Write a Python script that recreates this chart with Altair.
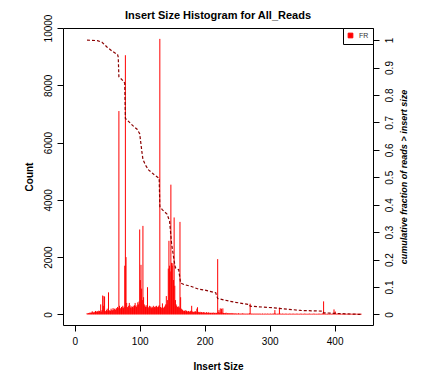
import altair as alt
import pandas as pd

# ---- data ----
sizes = list(range(19, 442))
counts = [
    40, 30, 50, 40, 60, 50, 70, 60, 110, 80,          # 19-28
    60, 90, 70, 120, 90, 100, 110, 80, 130, 120,      # 29-38
    100, 350, 100, 150, 660, 300, 640, 620, 120, 100, # 39-48
    150, 200, 120, 770, 150, 120, 130, 200, 150, 140, # 49-58
    220, 160, 200, 180, 160, 220, 200, 260, 220, 7100,# 59-68
    300, 220, 200, 260, 240, 300, 220, 260, 1700, 9050,  # 69-78
    2000, 400, 260, 220, 300, 400, 320, 240, 280, 220,   # 79-88
    260, 300, 240, 320, 400, 300, 260, 320, 420, 350,    # 89-98
    450, 2965, 1200, 1730, 900, 500, 3090, 600, 350, 300,# 99-108
    260, 320, 260, 950, 260, 220, 300, 240, 280, 220,    # 109-118
    260, 240, 300, 220, 260, 280, 240, 300, 260, 240,    # 119-128
    280, 320, 9620, 260, 220, 240, 385, 240, 220, 260,   # 129-138
    300, 350, 640, 350, 500, 1600, 2570, 1700, 1500, 4530, # 139-148
    1800, 1700, 1790, 1200, 3385, 1000, 500, 350, 300, 260, # 149-158
    240, 280, 240, 3230, 600, 200, 180, 150, 130, 110,   # 159-168
    120, 150, 100, 130, 110, 90, 120, 100, 90, 110,      # 169-178
    130, 300, 100, 90, 80, 100, 90, 110, 80, 200,        # 179-188
    250, 90, 80, 70, 90, 60, 80, 70, 60, 80,             # 189-198
    60, 70, 50, 60, 80, 50, 60, 70, 50, 60,              # 199-208
    50, 60, 40, 50, 70, 40, 50, 60, 40, 50,              # 209-218
    60, 1930, 80, 150, 60, 210, 70, 200, 60, 210,        # 219-228
    50, 40, 50, 40, 60, 30, 40, 50, 30, 40,              # 229-238
    30, 40, 30, 50, 30, 40, 20, 30, 40, 20,              # 239-248
    30, 20, 30, 40, 20, 30, 20, 30, 20, 40,              # 249-258
    20, 30, 20, 30, 20, 20, 30, 20, 30, 20,              # 259-268
    40, 375, 30, 20, 30, 20, 20, 30, 20, 20,             # 269-278
    30, 20, 20, 30, 20, 20, 30, 20, 20, 20,              # 279-288
    30, 20, 20, 20, 30, 20, 20, 20, 30, 20,              # 289-298
    20, 20, 30, 20, 20, 20, 30, 20, 40, 150,             # 299-308
    30, 20, 20, 20, 30, 20, 235, 30, 20, 20,             # 309-318
    20, 30, 20, 20, 20, 20, 30, 20, 20, 20,              # 319-328
    20, 20, 30, 20, 20, 20, 20, 30, 20, 20,              # 329-338
    20, 20, 20, 30, 20, 20, 20, 20, 20, 30,              # 339-348
    20, 20, 20, 20, 20, 30, 20, 20, 20, 20,              # 349-358
    20, 20, 30, 20, 20, 20, 20, 20, 20, 30,              # 359-368
    20, 20, 20, 20, 20, 20, 20, 30, 20, 20,              # 369-378
    20, 20, 30, 40, 455, 40, 30, 20, 20, 20,             # 379-388
    20, 20, 20, 20, 30, 20, 20, 20, 20, 40,              # 389-398
    175, 60, 100, 30, 20, 20, 20, 20, 20, 20,            # 399-408
    20, 20, 20, 20, 20, 20, 20, 20, 20, 20,              # 409-418
    20, 20, 20, 20, 20, 20, 20, 20, 20, 20,              # 419-428
    20, 20, 20, 20, 20, 20, 20, 20, 20, 20,              # 429-438
    20, 20, 20,                                          # 439-441
]
assert len(counts) == len(sizes)

cum_sizes = [19, 35, 42, 50, 58, 66, 67, 68, 73, 77, 78, 81, 89, 96, 100, 103,
             105, 109, 114, 122, 130, 131, 135, 142, 146, 149, 153, 155, 160,
             163, 168, 178, 191, 200, 217, 220, 245, 269, 270, 307, 348, 382,
             383, 399, 441]
cum_frac = [1.0, 0.998, 0.992, 0.974, 0.959, 0.947, 0.938, 0.866, 0.855, 0.843,
            0.714, 0.708, 0.689, 0.675, 0.659, 0.600, 0.565, 0.544, 0.526, 0.510,
            0.496, 0.393, 0.381, 0.366, 0.340, 0.260, 0.195, 0.170, 0.163, 0.115,
            0.109, 0.103, 0.092, 0.089, 0.079, 0.058, 0.045, 0.036, 0.030, 0.024,
            0.0145, 0.012, 0.006, 0.004, 0.0]

x_ticks = [0, 100, 200, 300, 400]
count_ticks = [0, 2000, 4000, 6000, 8000, 10000]
frac_ticks = [0, 0.1, 0.2, 0.3, 0.4, 0.5, 0.6, 0.7, 0.8, 0.9, 1.0]

hist = pd.DataFrame({"size": sizes, "count": counts, "series": ["FR"] * len(sizes)})
cum = pd.DataFrame({"size": cum_sizes, "frac": cum_frac})

FONT = "Liberation Sans"

x_scale = alt.Scale(domain=[-18, 459], nice=False, zero=False)

x_axis = alt.Axis(
    values=x_ticks, title="Insert Size", grid=False, domain=False, format="d",
    tickSize=6, tickColor="black", labelFontSize=10, labelColor="black",
    labelPadding=5, titleFontSize=10, titleFontWeight="bold", titlePadding=15,
    labelFont=FONT, titleFont=FONT, labelFlush=False, titleColor="black",
)

left_axis = alt.Axis(
    values=count_ticks, title="Count", grid=False, domain=False, format="d",
    tickSize=6, tickColor="black", labelFontSize=10, labelColor="black",
    labelAngle=270, labelAlign="center", labelBaseline="bottom", labelPadding=4,
    titleFontSize=10, titleFontWeight="bold", titlePadding=9,
    labelFont=FONT, titleFont=FONT, titleColor="black", labelFlush=False,
)

right_axis = alt.Axis(
    orient="right", values=frac_ticks, format=".1~f",
    title="cumulative fraction of reads > insert size", grid=False, domain=False,
    tickSize=6, tickColor="black", labelFontSize=10, labelColor="black",
    labelAngle=270, labelAlign="center", labelBaseline="top", labelPadding=5,
    titleFontSize=9, titleFontWeight="bold", titleFontStyle="italic",
    titleAngle=270, titleBaseline="top", titlePadding=5,
    labelFont=FONT, titleFont=FONT, titleColor="black", labelFlush=False,
)

bars = alt.Chart(hist).mark_rule(strokeWidth=1).encode(
    x=alt.X("size:Q", scale=x_scale, axis=x_axis),
    y=alt.Y("count:Q", scale=alt.Scale(domain=[-370, 10000], nice=False, zero=False),
            axis=left_axis),
    y2=alt.datum(0),
    color=alt.Color(
        "series:N",
        scale=alt.Scale(domain=["FR"], range=["red"]),
        legend=alt.Legend(
            title=None, orient="top-right", offset=0, padding=4,
            strokeColor="black", fillColor="white", cornerRadius=0,
            symbolType="square", symbolSize=22, labelFontSize=7,
            labelFont=FONT, labelColor="#333333", labelOffset=5,
            symbolFillColor="red", symbolStrokeColor="black", symbolStrokeWidth=1,
        ),
    ),
)

line = alt.Chart(cum).mark_line(color="#8B0000", strokeDash=[3, 2], strokeWidth=1.2).encode(
    x=alt.X("size:Q", scale=x_scale),
    y=alt.Y("frac:Q", scale=alt.Scale(domain=[-0.0385, 1.044], nice=False, zero=False),
            axis=right_axis),
)

chart = alt.layer(bars, line).resolve_scale(y="independent").properties(
    width=310, height=297,
    autosize=alt.AutoSizeParams(type="none"),
    padding={"left": 55, "top": 20, "right": 45, "bottom": 55},
    title=alt.TitleParams("Insert Size Histogram for All_Reads", fontSize=11,
                          font=FONT, fontWeight="bold", offset=0, dy=7,
                          color="black"),
    background="white",
).configure_view(stroke="black", strokeWidth=1)

chart.save("out.html", embed_options={"renderer": "svg", "actions": False})
